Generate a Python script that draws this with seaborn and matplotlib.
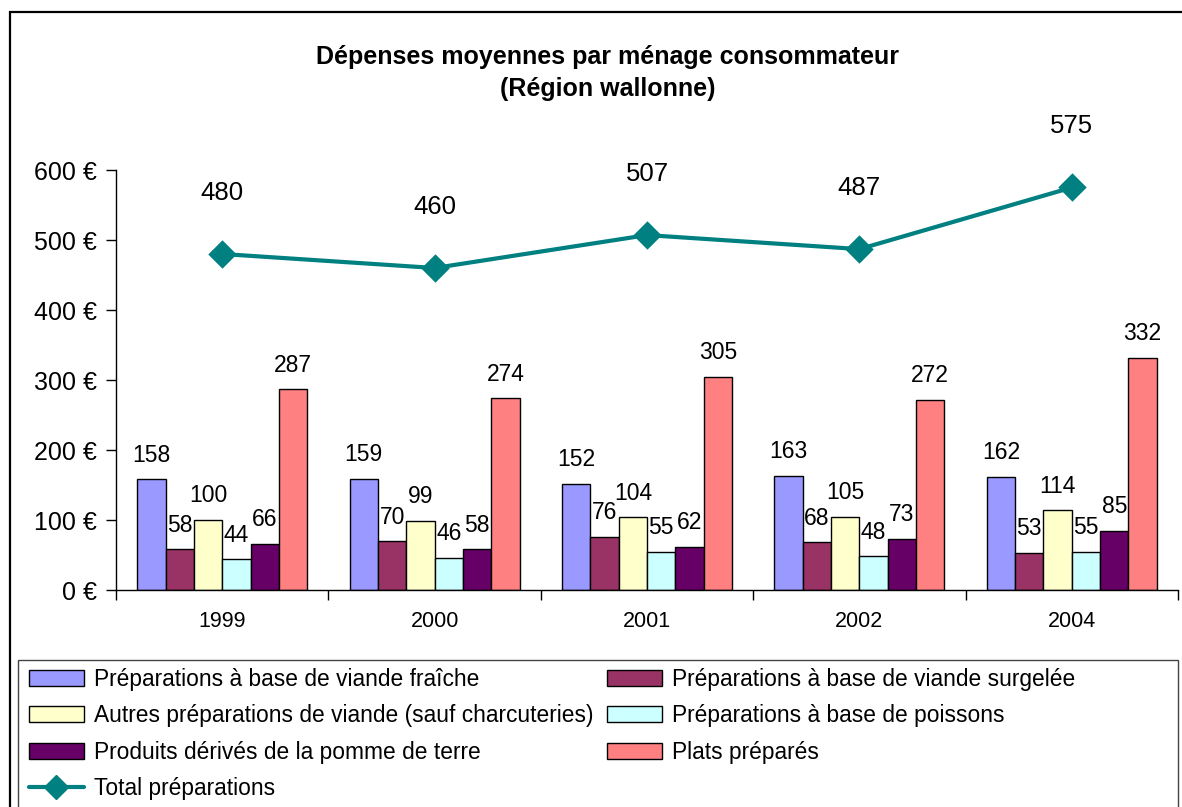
import matplotlib
matplotlib.use('Agg')
import matplotlib.pyplot as plt
import numpy as np
import pandas as pd
import seaborn as sns
from matplotlib.lines import Line2D
from matplotlib.patches import Patch, Rectangle

# ---------------------------------------------------------------------------
# Data
# ---------------------------------------------------------------------------
years = ['1999', '2000', '2001', '2002', '2004']
series = ['Préparations à base de viande fraîche',
          'Préparations à base de viande surgelée',
          'Autres préparations de viande (sauf charcuteries)',
          'Préparations à base de poissons',
          'Produits dérivés de la pomme de terre',
          'Plats préparés']
viande_fraiche = [158, 159, 152, 163, 162]
viande_surgelee = [58, 70, 76, 68, 53]
autres_viande = [100, 99, 104, 105, 114]
poissons = [44, 46, 55, 48, 55]
pomme_de_terre = [66, 58, 62, 73, 85]
plats_prepares = [287, 274, 305, 272, 332]
total = [480, 460, 507, 487, 575]
total_label = 'Total préparations'

colors = ['#9999FF', '#993366', '#FFFFCC', '#CCFFFF', '#660066', '#FF8080']
line_color = '#008080'

values = [viande_fraiche, viande_surgelee, autres_viande, poissons,
          pomme_de_terre, plats_prepares]
df = pd.DataFrame({
    'year': np.tile(years, len(series)),
    'series': np.repeat(series, len(years)),
    'value': np.concatenate(values),
})

# ---------------------------------------------------------------------------
# Plot
# ---------------------------------------------------------------------------
sns.set_style('white')
plt.rcParams['font.family'] = ['Liberation Sans', 'DejaVu Sans']
plt.rcParams.update({'text.color': 'black', 'axes.labelcolor': 'black',
                     'xtick.color': 'black', 'ytick.color': 'black'})

W, H = 1182, 807
fig = plt.figure(figsize=(W / 100, H / 100), dpi=100)
ax = fig.add_axes([116 / W, 1 - 590 / H, (1178 - 116) / W, (590 - 170) / H])

sns.barplot(data=df, x='year', y='value', hue='series', hue_order=series,
            palette=colors, saturation=1, edgecolor='black', linewidth=1,
            width=0.8, legend=False, ax=ax)
for cont in ax.containers:
    ax.bar_label(cont, fontsize=16.5, padding=9)

sns.pointplot(x=years, y=total, color=line_color, markers='D',
              markersize=12, linewidth=3, ax=ax)
for i, v in enumerate(total):
    ax.annotate(str(v), (i, v), xytext=(0, 44), textcoords='offset points',
                ha='center', va='center', fontsize=18.5)

ax.set_xlim(-0.5, len(years) - 0.5)
ax.set_ylim(0, 600)
ax.set_yticks(range(0, 601, 100))
ax.set_yticklabels([f'{v} €' for v in range(0, 601, 100)], fontsize=18)
ax.set_xticks(range(len(years)))
ax.set_xticklabels(years, fontsize=15.5)
ax.set_xticks(np.arange(-0.5, len(years)), minor=True)
ax.tick_params(axis='x', which='major', length=0, pad=15)
ax.tick_params(axis='x', which='minor', length=7, width=1, direction='out',
               color='black', bottom=True)
ax.tick_params(axis='y', length=7, width=1, direction='out', color='black',
               left=True, pad=6.5)
ax.set_xlabel('')
ax.set_ylabel('')
for s in ['top', 'right']:
    ax.spines[s].set_visible(False)
for s in ['left', 'bottom']:
    ax.spines[s].set_color('black')
    ax.spines[s].set_linewidth(1)

fig.text(608 / W, 1 - 73 / H,
         'Dépenses moyennes par ménage consommateur\n(Région wallonne)',
         ha='center', va='center', fontsize=18, fontweight='bold',
         linespacing=1.42)

# Legend, row-wise order like the original
h = [Patch(facecolor=c, edgecolor='black', linewidth=1) for c in colors]
line_h = Line2D([], [], color=line_color, lw=3, marker='D', ms=12)
handles = [h[0], h[2], h[4], line_h, h[1], h[3], h[5]]
labels = [series[0], series[2], series[4], total_label,
          series[1], series[3], series[5]]
fig.legend(handles, labels, ncol=2, loc='upper left',
           bbox_to_anchor=(20 / W, 1 - 659 / H), frameon=False,
           fontsize=16.4, handlelength=2.4, handletextpad=0.45,
           columnspacing=0.6, labelspacing=0.58, borderaxespad=0)

fig.add_artist(Rectangle((18 / W, -0.05), (1178 - 18) / W, (807 - 660) / H + 0.05,
                         transform=fig.transFigure, fill=False,
                         edgecolor='#444444', linewidth=1))
# outer chart frame
fig.add_artist(Rectangle((10 / W, -0.05), 1.05, 1 - 12 / H + 0.05,
                         transform=fig.transFigure, fill=False,
                         edgecolor='black', linewidth=1.6))

fig.savefig('out.png', dpi=100)
